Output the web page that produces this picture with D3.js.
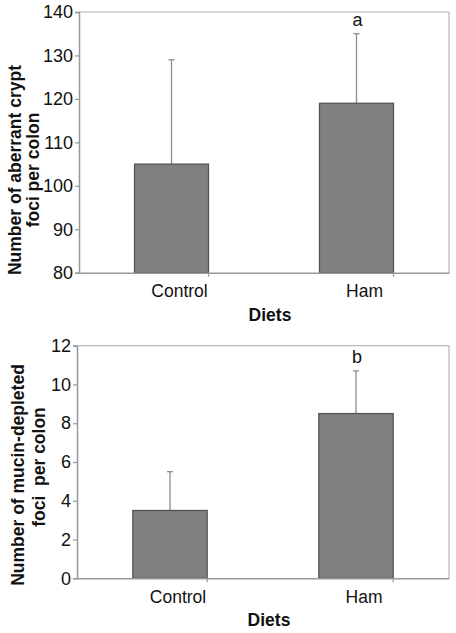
<!DOCTYPE html>
<html><head><meta charset="utf-8">
<script src="https://cdn.jsdelivr.net/npm/d3@7"></script>
<style>
html,body{margin:0;padding:0;background:#fff;}
svg{display:block;font-family:"Liberation Sans",Arial,sans-serif;}
</style></head>
<body>
<script>
const categories = ["Control", "Ham"];
const acfMeans = [105, 119];
const acfErrTop = [129, 135];
const acfLetters = ["", "a"];
const acfTicks = [80, 90, 100, 110, 120, 130, 140];
const mdfMeans = [3.5, 8.5];
const mdfErrTop = [5.5, 10.7];
const mdfLetters = ["", "b"];
const mdfTicks = [0, 2, 4, 6, 8, 10, 12];
const xTitle = "Diets";

const W = 456, H = 633;
const svg = d3.select("body").append("svg").attr("width", W).attr("height", H);

function panel(cfg) {
  const g = svg.append("g");
  const x = d3.scaleBand().domain(categories).range([cfg.left, cfg.right]).paddingInner(0.6).paddingOuter(0.3);
  const y = d3.scaleLinear().domain(cfg.domain).range([cfg.bottom, cfg.top]);
  g.append("line").attr("x1", cfg.left).attr("x2", cfg.right).attr("y1", cfg.top).attr("y2", cfg.top).attr("stroke", "#b4b4b4").attr("stroke-width", 1.2);
  g.append("line").attr("x1", cfg.right).attr("x2", cfg.right).attr("y1", cfg.top).attr("y2", cfg.bottom).attr("stroke", "#b4b4b4").attr("stroke-width", 1.2);
  const eb = g.append("g");
  categories.forEach((c, i) => {
    const cx = x(c) + x.bandwidth() / 2;
    eb.append("line").attr("x1", cx).attr("x2", cx).attr("y1", y(cfg.means[i])).attr("y2", y(cfg.err[i])).attr("stroke", "#8c8c8c").attr("stroke-width", 1.3);
    eb.append("line").attr("x1", cx - 3).attr("x2", cx + 3).attr("y1", y(cfg.err[i])).attr("y2", y(cfg.err[i])).attr("stroke", "#8c8c8c").attr("stroke-width", 1.3);
    if (cfg.letters[i]) {
      g.append("text").attr("x", cx + 1).attr("y", y(cfg.err[i]) - 7.5).attr("text-anchor", "middle").attr("font-size", 18).attr("fill", "#111").text(cfg.letters[i]);
    }
  });
  g.selectAll("rect.bar").data(categories).enter().append("rect")
    .attr("x", d => x(d)).attr("width", x.bandwidth())
    .attr("y", (d, i) => y(cfg.means[i])).attr("height", (d, i) => cfg.bottom - y(cfg.means[i]))
    .attr("fill", "#808080").attr("stroke", "#505050").attr("stroke-width", 1.2);
  const ya = g.append("g").attr("transform", `translate(${cfg.left},0)`)
    .call(d3.axisLeft(y).tickValues(cfg.ticks).tickSize(4).tickPadding(2).tickFormat(d3.format("d")));
  ya.select(".domain").attr("stroke", "#999").attr("stroke-width", 1.5);
  ya.selectAll(".tick line").attr("stroke", "#999").attr("stroke-width", 1.2);
  ya.selectAll(".tick text").attr("font-size", 18).attr("fill", "#111").attr("font-family", "Liberation Sans, Arial, sans-serif");
  const xa = g.append("g").attr("transform", `translate(0,${cfg.bottom})`)
    .call(d3.axisBottom(x).tickSize(0).tickPadding(12));
  xa.select(".domain").attr("stroke", "#999").attr("stroke-width", 1.5);
  xa.selectAll(".tick text").attr("font-size", 17.5).attr("fill", "#111").attr("dx", 8).attr("font-family", "Liberation Sans, Arial, sans-serif");
  const step = x.step();
  const bounds = d3.range(categories.length + 1).map(k => x(categories[0]) - x.paddingOuter() * step - x.paddingInner() * step / 2 + k * step);
  g.selectAll("line.xt").data(bounds.slice(1)).enter().append("line")
    .attr("x1", d => d).attr("x2", d => d).attr("y1", cfg.bottom).attr("y2", cfg.bottom + 4)
    .attr("stroke", "#999").attr("stroke-width", 1.2);
  g.append("text").attr("x", (cfg.left + cfg.right) / 2 + 6).attr("y", cfg.bottom + 48)
    .attr("text-anchor", "middle").attr("font-size", 17.5).attr("font-weight", "bold").attr("fill", "#111").text(xTitle);
  cfg.ytitle.forEach((t, k) => {
    g.append("text").attr("transform", `translate(${cfg.ytx[k]},${cfg.yty[k]}) rotate(-90)`)
      .attr("text-anchor", "middle").attr("font-size", 17.5).attr("font-weight", "bold").attr("fill", "#111")
      .attr("xml:space", "preserve").text(t);
  });
}

panel({left: 79, right: 449, top: 12, bottom: 272.7, domain: [80, 140], ticks: acfTicks,
  means: acfMeans, err: acfErrTop, letters: acfLetters,
  ytitle: ["Number of aberrant crypt", "foci per colon"], ytx: [21, 39], yty: [170, 170]});
panel({left: 77, right: 449, top: 345.7, bottom: 578.3, domain: [0, 12], ticks: mdfTicks,
  means: mdfMeans, err: mdfErrTop, letters: mdfLetters,
  ytitle: ["Number of mucin-depleted", "foci  per colon"], ytx: [24, 45], yty: [475, 467]});
</script>
</body></html>
